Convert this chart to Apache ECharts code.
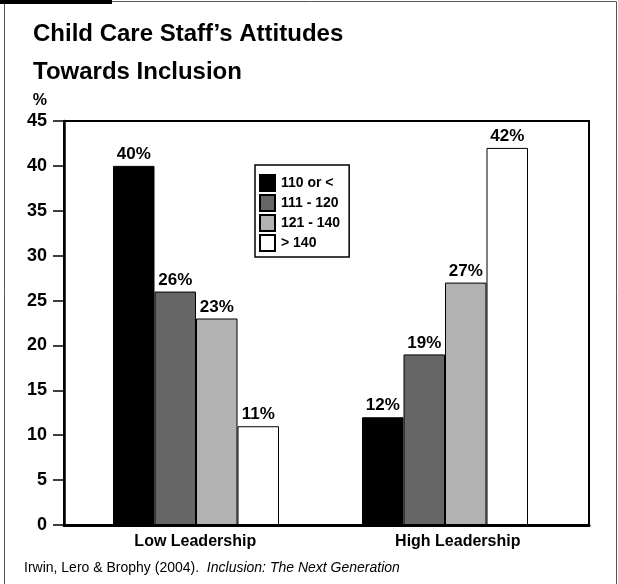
<!DOCTYPE html>
<html>
<head>
<meta charset="utf-8">
<script src="https://cdn.jsdelivr.net/npm/echarts@6/dist/echarts.min.js"></script>
<style>
html,body{margin:0;padding:0;background:#fff;}
#chart{width:618px;height:584px;}
</style>
</head>
<body>
<div id="chart"></div>
<script>
var categories = ['Low Leadership', 'High Leadership'];
var seriesNames = ['110 or <', '111 - 120', '121 - 140', '> 140'];
var values110 = [40, 12];
var values111 = [26, 19];
var values121 = [23, 27];
var values140 = [11, 42];
var seriesValues = [values110, values111, values121, values140];
var seriesColors = ['#000000', '#666666', '#b2b2b2', '#ffffff'];
var yTicks = [0, 5, 10, 15, 20, 25, 30, 35, 40, 45];

var FONT = '"Liberation Sans", Arial, Helvetica, sans-serif';

var series = seriesNames.map(function (name, i) {
  return {
    name: name,
    type: 'bar',
    xAxisIndex: 1,
    yAxisIndex: 1,
    barWidth: 41.5,
    barGap: '0%',
    data: seriesValues[i],
    itemStyle: { color: seriesColors[i], borderColor: '#000', borderWidth: 1 },
    label: {
      show: true,
      position: 'top',
      distance: 3,
      formatter: function (p) { return p.value + '%'; },
      fontFamily: FONT,
      fontWeight: 'bold',
      fontSize: 17,
      color: '#000'
    }
  };
});

var chart = echarts.init(document.getElementById('chart'), null, { renderer: 'canvas' });
chart.setOption({
  backgroundColor: '#fff',
  animation: false,
  title: [
    {
      text: 'Child Care Staff\u2019s Attitudes\nTowards Inclusion',
      left: 33,
      top: 15,
      padding: 0,
      textStyle: { fontFamily: FONT, fontWeight: 'bold', fontSize: 24, lineHeight: 38, color: '#000' }
    },
    {
      text: '{a|Irwin, Lero & Brophy (2004).  }{b|Inclusion: The Next Generation}',
      left: 24,
      top: 561,
      padding: 0,
      textStyle: {
        fontWeight: 'normal',
        rich: {
          a: { fontFamily: FONT, fontSize: 14, fontWeight: 'normal', color: '#000' },
          b: { fontFamily: FONT, fontSize: 14, fontWeight: 'normal', fontStyle: 'italic', color: '#000' }
        }
      }
    }
  ],
  legend: {
    data: seriesNames,
    orient: 'vertical',
    left: 255,
    top: 165,
    icon: 'rect',
    itemWidth: 15,
    itemHeight: 16,
    itemGap: 2,
    padding: [9, 9, 5, 4],
    borderColor: '#000',
    borderWidth: 1.5,
    backgroundColor: '#fff',
    textStyle: { fontFamily: FONT, fontWeight: 'bold', fontSize: 14, color: '#000', padding: [0, 0, 0, 1] },
    selectedMode: false
  },
  grid: [
    { left: 64, right: 29, top: 121, bottom: 59, show: true, borderColor: '#000', borderWidth: 2, containLabel: false },
    { left: 71.5, right: 48.5, top: 121, bottom: 59, containLabel: false }
  ],
  xAxis: [
    {
      type: 'category',
      gridIndex: 0,
      data: categories,
      axisLine: { show: true, lineStyle: { color: '#000', width: 3 } },
      axisTick: { show: false },
      axisLabel: { fontFamily: FONT, fontWeight: 'bold', fontSize: 16, color: '#000', margin: 9 }
    },
    {
      type: 'category',
      gridIndex: 1,
      data: categories,
      show: false
    }
  ],
  yAxis: [
    {
      type: 'value',
      gridIndex: 0,
      min: yTicks[0],
      max: yTicks[yTicks.length - 1],
      interval: 5,
      name: '%',
      nameLocation: 'end',
      nameGap: 12,
      nameTextStyle: { fontFamily: FONT, fontWeight: 'bold', fontSize: 16, color: '#000', align: 'right', padding: [0, 17, 0, 0] },
      axisLine: { show: true, lineStyle: { color: '#000', width: 2.5 } },
      axisTick: { show: true, inside: false, length: 11, lineStyle: { color: '#000', width: 1.5 } },
      axisLabel: { fontFamily: FONT, fontWeight: 'bold', fontSize: 18, color: '#000', margin: 17 },
      splitLine: { show: false }
    },
    {
      type: 'value',
      gridIndex: 1,
      min: yTicks[0],
      max: yTicks[yTicks.length - 1],
      interval: 5,
      show: false,
      splitLine: { show: false }
    }
  ],
  graphic: [
    { type: 'rect', left: 0, top: 0, shape: { width: 112, height: 4 }, style: { fill: '#000' }, z: 10 },
    { type: 'polyline', shape: { points: [[4.5, 584], [4.5, 1.5], [616.5, 1.5], [616.5, 584]] }, style: { stroke: '#555', lineWidth: 1, fill: null }, z: 9 }
  ],
  series: series
});
</script>
</body>
</html>
